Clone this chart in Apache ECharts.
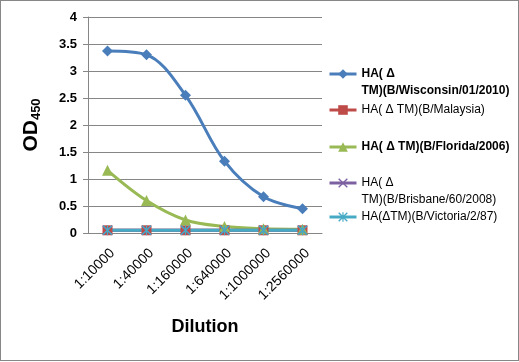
<!DOCTYPE html>
<html>
<head>
<meta charset="utf-8">
<script src="https://cdn.jsdelivr.net/npm/echarts@6/dist/echarts.min.js"></script>
<style>
html,body{margin:0;padding:0;background:#fff;}
#c{width:519px;height:362px;position:relative;}
#frame{position:absolute;left:0;top:0;width:517px;height:359px;border:1px solid #878787;pointer-events:none;}
</style>
</head>
<body>
<div id="c"></div>
<div id="frame"></div>
<script>
const categories = ['1:10000','1:40000','1:160000','1:640000','1:1000000','1:2560000'];
const wisconsin = [3.37, 3.30, 2.55, 1.33, 0.67, 0.45];
const malaysia  = [0.05, 0.05, 0.05, 0.05, 0.05, 0.05];
const florida   = [1.16, 0.60, 0.24, 0.12, 0.08, 0.07];
const brisbane  = [0.05, 0.05, 0.05, 0.05, 0.05, 0.05];
const victoria  = [0.05, 0.05, 0.05, 0.05, 0.05, 0.05];
const yTicks = [0, 0.5, 1, 1.5, 2, 2.5, 3, 3.5, 4];

const names = [
  'HA(ΔTM)(B/Wisconsin/01/2010)',
  'HA(ΔTM)(B/Malaysia)',
  'HA(ΔTM)(B/Florida/2006)',
  'HA(ΔTM)(B/Brisbane/60/2008)',
  'HA(ΔTM)(B/Victoria/2/87)'
];
const legendText = [
  ' \nHA( Δ\nTM)(B/Wisconsin/01/2010)',
  'HA( Δ TM)(B/Malaysia)',
  'HA( Δ TM)(B/Florida/2006)',
  ' \nHA( Δ\nTM)(B/Brisbane/60/2008)',
  'HA(ΔTM)(B/Victoria/2/87)'
];
const legendLines = [3, 1, 1, 3, 1];
const legendBold = [true, false, true, false, false];
const legendY = [74, 110, 147, 183, 217];
const colors = ['#4A7EBB', '#BE4B48', '#98B954', '#7D60A0', '#46AAC5'];

const symbols = ['diamond', 'rect', 'triangle',
  'path://M1,0L5,4L9,0L10,1L6,5L10,9L9,10L5,6L1,10L0,9L4,5L0,1Z',
  'path://M1,0L5,4L9,0L10,1L6,5L10,9L9,10L5,6L1,10L0,9L4,5L0,1ZM4.4,0H5.6V10H4.4Z'];
const symbolSizes = [11, 10, 11, 10, 10];
const data = [wisconsin, malaysia, florida, brisbane, victoria];
const LH = 17;

const chart = echarts.init(document.getElementById('c'), null, {renderer: 'canvas'});

const legends = names.map((n, i) => ({
  data: [n],
  left: 328,
  top: legendY[i] - legendLines[i] * LH / 2,
  padding: 0,
  itemWidth: 27,
  itemHeight: 12,
  itemGap: 0,
  selectedMode: false,
  lineStyle: {width: 3},
  formatter: () => legendText[i],
  textStyle: {
    fontFamily: 'Liberation Sans, Arial, sans-serif',
    fontSize: 12,
    fontWeight: legendBold[i] ? 'bold' : 'normal',
    color: '#000',
    lineHeight: LH
  }
}));

chart.setOption({
  animation: false,
  backgroundColor: '#fff',
  legend: legends,
  grid: {left: 88, right: 197, top: 17, bottom: 129, containLabel: false},
  xAxis: {
    type: 'category',
    data: categories,
    boundaryGap: true,
    name: 'Dilution',
    nameLocation: 'middle',
    nameGap: 85,
    nameTextStyle: {fontFamily: 'Liberation Sans, Arial, sans-serif', fontSize: 18, fontWeight: 'bold', color: '#000'},
    axisLine: {lineStyle: {color: '#868686', width: 1}},
    axisTick: {show: false},
    axisLabel: {rotate: 45, fontFamily: 'Liberation Sans, Arial, sans-serif', fontSize: 14, color: '#000', margin: 13, interval: 0, verticalAlign: 'top'}
  },
  yAxis: {
    type: 'value',
    min: 0, max: 4, interval: 0.5,
    name: '{a|OD}{b|450}',
    nameLocation: 'middle',
    nameGap: 45,
    nameTextStyle: {
      rich: {
        a: {fontFamily: 'Liberation Sans, Arial, sans-serif', fontSize: 21, fontWeight: 'bold', color: '#000'},
        b: {fontFamily: 'Liberation Sans, Arial, sans-serif', fontSize: 13, fontWeight: 'bold', color: '#000', verticalAlign: 'bottom', padding: [10, 0, 0, 0]}
      }
    },
    axisLine: {show: true, lineStyle: {color: '#868686', width: 1}},
    axisTick: {show: true, length: 5, lineStyle: {color: '#868686'}},
    splitLine: {lineStyle: {color: '#868686', width: 1}},
    axisLabel: {
      fontFamily: 'Liberation Sans, Arial, sans-serif', fontSize: 13, fontWeight: 'bold', color: '#000', margin: 11,
      formatter: v => String(yTicks.find(t => Math.abs(t - v) < 1e-9) ?? v)
    }
  },
  series: names.map((n, i) => ({
    name: n,
    type: 'line',
    data: data[i],
    smooth: 0.35,
    symbol: symbols[i],
    symbolSize: symbolSizes[i],
    showAllSymbol: true,
    color: colors[i],
    lineStyle: {width: 3, color: colors[i]},
    itemStyle: {color: colors[i], borderWidth: 0}
  }))
});
</script>
</body>
</html>
